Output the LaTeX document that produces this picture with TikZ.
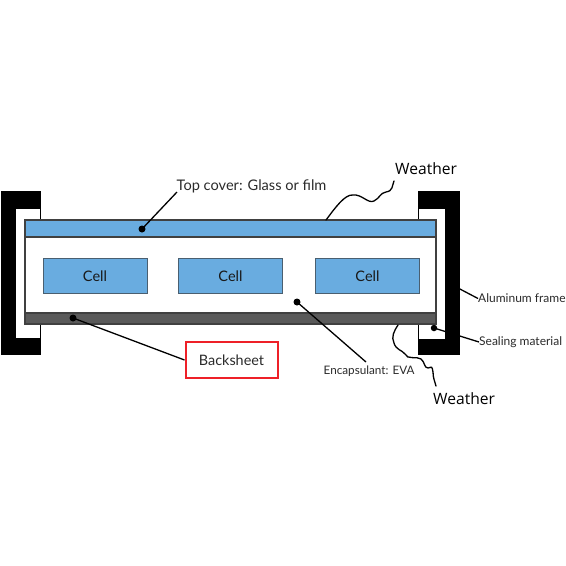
\documentclass[tikz,border=0pt]{standalone}
\usepackage{fontspec}
\setmainfont{Lato}
\newfontfamily\wfont{Open Sans}
\usetikzlibrary{calc}
\definecolor{cellblue}{HTML}{69ACE0}
\definecolor{cellline}{HTML}{4A5F70}
\definecolor{backgrey}{HTML}{5A5A5A}
\definecolor{txt}{HTML}{2A2A2A}
\definecolor{redbox}{HTML}{EE2028}
\tikzset{
  x=1pt,y=-1pt,
  frameblk/.style={fill=black,draw=none},
  layer/.style={draw=black!75,line width=1.2pt},
  cellbox/.style={draw=cellline,line width=1pt,fill=cellblue,minimum width=104pt,minimum height=35pt,inner sep=0pt,font=\fontsize{14.5}{16}\selectfont,text=black!90,anchor=north west},
  lbl/.style={inner sep=0pt,text=txt},
  leader/.style={draw=black,line width=1.3pt},
  dot/.style={circle,fill=black,inner sep=0pt,minimum size=7pt},
  wiggle/.style={draw=black,line width=1.3pt,line cap=round},
}
\begin{document}
\begin{tikzpicture}
\useasboundingbox (0,0) rectangle (566,566);
% frames
\fill[frameblk] (1,191) rectangle (41,355);
\fill[white] (16,208.5) rectangle (40,338);
\fill[frameblk] (418,191) rectangle (459.5,354.5);
\fill[white] (419,209) rectangle (445,339);
% panel
\draw[fill=white,layer] (25,220) rectangle (436,324);
\draw[layer,fill=cellblue] (25,220) rectangle (436,237);
\draw[layer,fill=backgrey] (25,313) rectangle (436,324);
% cells
\node[cellbox] (c1) at (42.5,258) {Cell};
\node[cellbox] (c2) at (178,258) {Cell};
\node[cellbox] (c3) at (315,258) {Cell};
% dots
\node[dot] (d1) at (142,229) {};
\node[dot] (d2) at (73,318) {};
\node[dot] (d3) at (297,302) {};
\node[dot,minimum size=6.5pt] (d4) at (434,328) {};
\coordinate (a1) at (458,288);
\coordinate (enct) at (366,362);
\coordinate (topt) at (177,192);
% labels
\node[lbl,anchor=west,font=\fontsize{14.6}{16}\selectfont] (top) at (176.5,186) {Top cover: Glass or film};
\node[lbl,anchor=west,font=\wfont\fontsize{15.6}{17}\selectfont,text=black] (w1) at (395,169) {Weather};
\node[draw=redbox,line width=2pt,fill=white,minimum width=92pt,minimum height=36pt,inner sep=0pt,font=\fontsize{14.4}{16}\selectfont,text=txt] (bs) at (231.5,360) {Backsheet};
\node[lbl,anchor=west,font=\fontsize{11.7}{13}\selectfont] (enc) at (323.5,371.5) {Encapsulant: EVA};
\node[lbl,anchor=west,font=\fontsize{12}{14}\selectfont] (al) at (478,298.5) {Aluminum frame};
\node[lbl,anchor=west,font=\fontsize{12}{14}\selectfont] (se) at (479,342) {Sealing material};
\node[lbl,anchor=west,font=\wfont\fontsize{15.6}{17}\selectfont,text=black] (w2) at (433,399) {Weather};
% leaders
\draw[leader] (d1.center) -- (topt);
\draw[leader] (d2.center) -- (bs.west);
\draw[leader] (d3.center) -- (enct);
\draw[leader] (d4.center) -- (se.west);
\draw[leader] (a1) -- (al.west);
% wiggles
\draw[wiggle] (326,220) .. controls (335,208) and (345,194) .. (353,195)
  .. controls (362,194) and (368,204) .. (374,201)
  .. controls (380,198) and (380,193) .. (386,192)
  .. controls (393,191) and (392,186) .. (394,181);
\draw[wiggle] (398,325) .. controls (394,331) and (391,337) .. (394,343)
  .. controls (396,350) and (402,350) .. (405,354)
  .. controls (407,360) and (417,356) .. (421,359)
  .. controls (425,362) and (424,368) .. (428,368)
  .. controls (432,367) and (432,366) .. (433,372)
  .. controls (433,378) and (435,382) .. (436,386);
\end{tikzpicture}
\end{document}
